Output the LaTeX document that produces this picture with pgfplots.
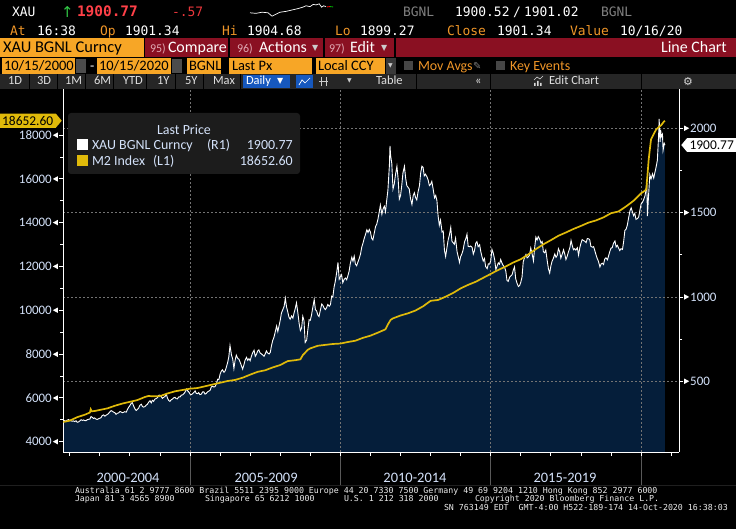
\documentclass[border=0pt]{standalone}
\usepackage{pgfplots}
\pgfplotsset{compat=1.18}
\usepackage{pgfplotstable}
\usepackage{fontspec}
\setmainfont{Carlito}
\setmonofont{DejaVu Sans Mono}
\newfontfamily\dejavu{DejaVu Sans}
\usetikzlibrary{shapes.symbols}

\definecolor{bborange}{RGB}{247,166,38}
\definecolor{bbotxt}{RGB}{240,150,40}
\definecolor{bbred}{RGB}{138,16,34}
\definecolor{bbgray}{RGB}{38,38,38}
\definecolor{bbblue}{RGB}{22,88,190}
\definecolor{navy}{RGB}{5,30,58}
\definecolor{goldl}{RGB}{224,186,10}
\definecolor{ticktxt}{RGB}{212,226,250}
\definecolor{gridgray}{RGB}{115,115,115}
\definecolor{legbg}{RGB}{28,28,28}
\definecolor{pricered}{RGB}{255,64,72}
\definecolor{numpink}{RGB}{225,170,180}

\newcommand{\fs}[1]{\fontsize{#1}{#1}\selectfont}

\pgfplotstableread[row sep=\\]{x y\\
2000.79 270\\ 2000.83 266\\ 2000.88 264\\ 2000.92 270\\ 2000.96 273\\
2001.00 268\\ 2001.04 266\\ 2001.08 263\\ 2001.13 265\\ 2001.17 261\\ 2001.21 266\\ 2001.25 257\\ 2001.29 259\\ 2001.33 264\\ 2001.38 272\\ 2001.42 268\\ 2001.46 271\\ 2001.50 267\\ 2001.54 266\\ 2001.58 272\\ 2001.63 275\\ 2001.67 276\\ 2001.71 291\\ 2001.75 286\\ 2001.79 280\\ 2001.83 283\\ 2001.88 275\\ 2001.92 274\\ 2001.96 278\\
2002.00 281\\ 2002.04 284\\ 2002.08 297\\ 2002.13 301\\ 2002.17 293\\ 2002.21 299\\ 2002.25 303\\ 2002.29 309\\ 2002.33 318\\ 2002.38 326\\ 2002.42 322\\ 2002.46 317\\ 2002.50 314\\ 2002.54 304\\ 2002.58 310\\ 2002.63 313\\ 2002.67 321\\ 2002.71 318\\ 2002.75 314\\ 2002.79 316\\ 2002.83 320\\ 2002.88 317\\ 2002.92 333\\ 2002.96 346\\
2003.00 356\\ 2003.04 368\\ 2003.08 374\\ 2003.13 352\\ 2003.17 336\\ 2003.21 327\\ 2003.25 333\\ 2003.29 340\\ 2003.33 357\\ 2003.38 364\\ 2003.42 350\\ 2003.46 347\\ 2003.50 350\\ 2003.54 358\\ 2003.58 363\\ 2003.63 377\\ 2003.67 385\\ 2003.71 372\\ 2003.75 387\\ 2003.79 381\\ 2003.83 394\\ 2003.88 398\\ 2003.92 404\\ 2003.96 417\\
2004.00 418\\ 2004.04 411\\ 2004.08 399\\ 2004.13 406\\ 2004.17 410\\ 2004.21 425\\ 2004.25 401\\ 2004.29 387\\ 2004.33 381\\ 2004.38 391\\ 2004.42 395\\ 2004.46 402\\ 2004.50 405\\ 2004.54 397\\ 2004.58 396\\ 2004.63 408\\ 2004.67 407\\ 2004.71 418\\ 2004.75 419\\ 2004.79 426\\ 2004.83 434\\ 2004.88 454\\ 2004.92 444\\ 2004.96 437\\
2005.00 424\\ 2005.04 421\\ 2005.08 425\\ 2005.13 434\\ 2005.17 443\\ 2005.21 428\\ 2005.25 427\\ 2005.29 433\\ 2005.33 421\\ 2005.38 424\\ 2005.42 438\\ 2005.46 437\\ 2005.50 424\\ 2005.54 428\\ 2005.58 437\\ 2005.63 442\\ 2005.67 447\\ 2005.71 467\\ 2005.75 471\\ 2005.79 466\\ 2005.83 468\\ 2005.88 486\\ 2005.92 512\\ 2005.96 510\\
2006.00 542\\ 2006.04 560\\ 2006.08 568\\ 2006.13 553\\ 2006.17 562\\ 2006.21 585\\ 2006.25 610\\ 2006.29 645\\ 2006.33 712\\ 2006.38 655\\ 2006.42 632\\ 2006.46 575\\ 2006.50 625\\ 2006.54 655\\ 2006.58 638\\ 2006.63 630\\ 2006.67 612\\ 2006.71 592\\ 2006.75 572\\ 2006.79 596\\ 2006.83 625\\ 2006.88 642\\ 2006.92 624\\ 2006.96 634\\
2007.00 622\\ 2007.04 648\\ 2007.08 668\\ 2007.13 684\\ 2007.17 648\\ 2007.21 660\\ 2007.25 680\\ 2007.29 686\\ 2007.33 668\\ 2007.38 662\\ 2007.42 655\\ 2007.46 648\\ 2007.50 662\\ 2007.54 680\\ 2007.58 668\\ 2007.63 662\\ 2007.67 672\\ 2007.71 712\\ 2007.75 742\\ 2007.79 760\\ 2007.83 790\\ 2007.88 828\\ 2007.92 795\\ 2007.96 828\\
2008.00 862\\ 2008.04 905\\ 2008.08 922\\ 2008.13 945\\ 2008.17 992\\ 2008.21 940\\ 2008.25 912\\ 2008.29 880\\ 2008.33 868\\ 2008.38 888\\ 2008.42 874\\ 2008.46 905\\ 2008.50 932\\ 2008.54 965\\ 2008.58 915\\ 2008.63 842\\ 2008.67 800\\ 2008.71 815\\ 2008.75 885\\ 2008.79 860\\ 2008.83 730\\ 2008.88 745\\ 2008.92 808\\ 2008.96 865\\
2009.00 862\\ 2009.04 892\\ 2009.08 935\\ 2009.13 985\\ 2009.17 925\\ 2009.21 918\\ 2009.25 893\\ 2009.29 884\\ 2009.33 918\\ 2009.38 958\\ 2009.42 950\\ 2009.46 934\\ 2009.50 925\\ 2009.54 936\\ 2009.58 955\\ 2009.63 945\\ 2009.67 955\\ 2009.71 1005\\ 2009.75 1000\\ 2009.79 1058\\ 2009.83 1092\\ 2009.88 1148\\ 2009.92 1205\\ 2009.96 1105\\
2010.00 1120\\ 2010.04 1132\\ 2010.08 1084\\ 2010.13 1106\\ 2010.17 1112\\ 2010.21 1102\\ 2010.25 1126\\ 2010.29 1152\\ 2010.33 1198\\ 2010.38 1235\\ 2010.42 1212\\ 2010.46 1242\\ 2010.50 1195\\ 2010.54 1185\\ 2010.58 1205\\ 2010.63 1230\\ 2010.67 1255\\ 2010.71 1295\\ 2010.75 1318\\ 2010.79 1345\\ 2010.83 1368\\ 2010.88 1398\\ 2010.92 1382\\ 2010.96 1400\\
2011.00 1385\\ 2011.04 1348\\ 2011.08 1338\\ 2011.13 1382\\ 2011.17 1418\\ 2011.21 1432\\ 2011.25 1462\\ 2011.29 1502\\ 2011.33 1545\\ 2011.38 1490\\ 2011.42 1522\\ 2011.46 1538\\ 2011.50 1505\\ 2011.54 1572\\ 2011.58 1632\\ 2011.63 1780\\ 2011.65 1895\\ 2011.67 1840\\ 2011.71 1790\\ 2011.75 1640\\ 2011.79 1668\\ 2011.83 1722\\ 2011.88 1775\\ 2011.92 1700\\ 2011.96 1580\\
2012.00 1600\\ 2012.04 1660\\ 2012.08 1735\\ 2012.13 1775\\ 2012.17 1705\\ 2012.21 1660\\ 2012.25 1650\\ 2012.29 1640\\ 2012.33 1585\\ 2012.38 1548\\ 2012.42 1600\\ 2012.46 1618\\ 2012.50 1590\\ 2012.54 1575\\ 2012.58 1620\\ 2012.63 1660\\ 2012.67 1735\\ 2012.71 1775\\ 2012.75 1768\\ 2012.79 1718\\ 2012.83 1728\\ 2012.88 1712\\ 2012.92 1692\\ 2012.96 1660\\
2013.00 1668\\ 2013.04 1685\\ 2013.08 1645\\ 2013.13 1588\\ 2013.17 1602\\ 2013.21 1572\\ 2013.25 1480\\ 2013.29 1425\\ 2013.33 1455\\ 2013.38 1385\\ 2013.42 1390\\ 2013.46 1278\\ 2013.50 1240\\ 2013.54 1288\\ 2013.58 1335\\ 2013.63 1372\\ 2013.67 1412\\ 2013.71 1330\\ 2013.75 1322\\ 2013.79 1312\\ 2013.83 1348\\ 2013.88 1268\\ 2013.92 1238\\ 2013.96 1205\\
2014.00 1240\\ 2014.04 1255\\ 2014.08 1278\\ 2014.13 1328\\ 2014.17 1345\\ 2014.21 1372\\ 2014.25 1300\\ 2014.29 1298\\ 2014.33 1302\\ 2014.38 1294\\ 2014.42 1254\\ 2014.46 1275\\ 2014.50 1318\\ 2014.54 1328\\ 2014.58 1298\\ 2014.63 1310\\ 2014.67 1268\\ 2014.71 1238\\ 2014.75 1213\\ 2014.79 1228\\ 2014.83 1180\\ 2014.88 1168\\ 2014.92 1196\\ 2014.96 1195\\
2015.00 1215\\ 2015.04 1282\\ 2015.08 1262\\ 2015.13 1222\\ 2015.17 1162\\ 2015.21 1182\\ 2015.25 1202\\ 2015.29 1194\\ 2015.33 1222\\ 2015.38 1198\\ 2015.42 1185\\ 2015.46 1176\\ 2015.50 1154\\ 2015.54 1098\\ 2015.58 1092\\ 2015.63 1118\\ 2015.67 1125\\ 2015.71 1132\\ 2015.75 1160\\ 2015.79 1178\\ 2015.83 1108\\ 2015.88 1078\\ 2015.92 1062\\ 2015.96 1068\\
2016.00 1088\\ 2016.04 1118\\ 2016.08 1208\\ 2016.13 1238\\ 2016.17 1252\\ 2016.21 1232\\ 2016.25 1238\\ 2016.29 1248\\ 2016.33 1290\\ 2016.38 1252\\ 2016.42 1214\\ 2016.46 1292\\ 2016.50 1355\\ 2016.54 1338\\ 2016.58 1358\\ 2016.63 1342\\ 2016.67 1320\\ 2016.71 1328\\ 2016.75 1268\\ 2016.79 1262\\ 2016.83 1278\\ 2016.88 1212\\ 2016.92 1165\\ 2016.96 1142\\
2017.00 1185\\ 2017.04 1212\\ 2017.08 1228\\ 2017.13 1255\\ 2017.17 1235\\ 2017.21 1246\\ 2017.25 1286\\ 2017.29 1270\\ 2017.33 1230\\ 2017.38 1256\\ 2017.42 1280\\ 2017.46 1255\\ 2017.50 1222\\ 2017.54 1240\\ 2017.58 1265\\ 2017.63 1292\\ 2017.67 1335\\ 2017.71 1305\\ 2017.75 1280\\ 2017.79 1286\\ 2017.83 1278\\ 2017.88 1292\\ 2017.92 1248\\ 2017.96 1290\\
2018.00 1320\\ 2018.04 1340\\ 2018.08 1335\\ 2018.13 1330\\ 2018.17 1322\\ 2018.21 1346\\ 2018.25 1345\\ 2018.29 1340\\ 2018.33 1300\\ 2018.38 1295\\ 2018.42 1298\\ 2018.46 1275\\ 2018.50 1250\\ 2018.54 1228\\ 2018.58 1212\\ 2018.63 1178\\ 2018.67 1196\\ 2018.71 1200\\ 2018.75 1192\\ 2018.79 1225\\ 2018.83 1232\\ 2018.88 1220\\ 2018.92 1245\\ 2018.96 1270\\
2019.00 1290\\ 2019.04 1292\\ 2019.08 1318\\ 2019.13 1332\\ 2019.17 1296\\ 2019.21 1306\\ 2019.25 1290\\ 2019.29 1275\\ 2019.33 1286\\ 2019.38 1282\\ 2019.42 1330\\ 2019.46 1395\\ 2019.50 1402\\ 2019.54 1425\\ 2019.58 1465\\ 2019.63 1512\\ 2019.67 1528\\ 2019.71 1505\\ 2019.75 1482\\ 2019.79 1495\\ 2019.83 1460\\ 2019.88 1465\\ 2019.92 1475\\ 2019.96 1515\\
2020.00 1552\\ 2020.04 1560\\ 2020.08 1575\\ 2020.13 1600\\ 2020.17 1645\\ 2020.19 1675\\ 2020.21 1480\\ 2020.25 1610\\ 2020.29 1725\\ 2020.33 1700\\ 2020.38 1730\\ 2020.42 1705\\ 2020.46 1740\\ 2020.50 1772\\ 2020.54 1810\\ 2020.58 1950\\ 2020.60 2055\\ 2020.63 1920\\ 2020.65 1990\\ 2020.67 1950\\ 2020.71 1965\\ 2020.73 1870\\ 2020.75 1890\\ 2020.77 1910\\ 2020.79 1900.77\\
}\xau

\pgfplotstableread[row sep=\\]{x y\\
2000.79 4900\\ 2001.00 4960\\ 2001.25 5120\\ 2001.50 5230\\ 2001.67 5330\\ 2001.70 5480\\ 2001.73 5390\\ 2001.83 5400\\ 2002.00 5450\\ 2002.25 5520\\ 2002.50 5640\\ 2002.75 5740\\ 2003.00 5820\\ 2003.25 5900\\ 2003.50 6040\\ 2003.62 6090\\ 2003.75 6070\\ 2004.00 6080\\ 2004.25 6200\\ 2004.50 6300\\ 2004.75 6360\\ 2005.00 6420\\ 2005.25 6450\\ 2005.50 6530\\ 2005.75 6610\\ 2006.00 6690\\ 2006.25 6770\\ 2006.50 6820\\ 2006.75 6920\\ 2007.00 7060\\ 2007.25 7190\\ 2007.50 7260\\ 2007.75 7390\\ 2008.00 7500\\ 2008.25 7680\\ 2008.50 7720\\ 2008.67 7760\\ 2008.75 7950\\ 2008.92 8200\\ 2009.00 8260\\ 2009.25 8380\\ 2009.50 8420\\ 2009.75 8460\\ 2010.00 8480\\ 2010.25 8550\\ 2010.50 8610\\ 2010.75 8740\\ 2011.00 8840\\ 2011.25 8980\\ 2011.50 9130\\ 2011.58 9350\\ 2011.67 9560\\ 2011.75 9630\\ 2012.00 9760\\ 2012.25 9860\\ 2012.50 9990\\ 2012.75 10180\\ 2013.00 10430\\ 2013.25 10470\\ 2013.50 10620\\ 2013.75 10790\\ 2014.00 11000\\ 2014.25 11160\\ 2014.50 11300\\ 2014.75 11480\\ 2015.00 11660\\ 2015.25 11840\\ 2015.50 12000\\ 2015.75 12180\\ 2016.00 12330\\ 2016.25 12550\\ 2016.50 12790\\ 2016.75 13010\\ 2017.00 13200\\ 2017.25 13400\\ 2017.50 13550\\ 2017.75 13710\\ 2018.00 13850\\ 2018.25 14000\\ 2018.50 14100\\ 2018.75 14240\\ 2019.00 14430\\ 2019.25 14510\\ 2019.50 14740\\ 2019.75 15000\\ 2020.00 15340\\ 2020.13 15460\\ 2020.17 15520\\ 2020.21 16150\\ 2020.25 16850\\ 2020.29 17350\\ 2020.33 17800\\ 2020.42 18050\\ 2020.50 18250\\ 2020.58 18350\\ 2020.67 18450\\ 2020.75 18600\\ 2020.79 18652.6\\
}\mtwo

\pgfplotsset{
  bbaxis/.style={at={(63bp,77bp)}, anchor=south west, scale only axis,
    width=616bp, height=363bp, xmin=2000.777, xmax=2021.26,
    clip mode=individual, scaled ticks=false,
    axis line style={white, line width=0.8bp},
    tick style={white, line width=0.8bp}, tick align=outside,
    major tick length=4bp, minor tick length=3bp,
    yticklabel style={font=\fs{13}, text=ticktxt, inner sep=1bp}},
}

\tikzset{
  t/.style={anchor=base west, inner sep=0pt, outer sep=0pt},
  mono/.style={t, font=\ttfamily\fs{13}, text=white},
  foot/.style={t, font=\ttfamily\fs{8.3}, text=white!92!black},
  btn/.style={t, font=\fs{12.5}, text=white!88!black},
}

\begin{document}
\begin{tikzpicture}[x=1bp,y=1bp]
\useasboundingbox (0,0) rectangle (736,529);
\fill[black] (0,0) rectangle (736,529);

% ---------- header row 1
\node[mono] at (12,512) {XAU};
\node[t, font=\dejavu\fs{15}, text={rgb,255:red,50;green,200;blue,70}] at (61,511) {↑};
\node[mono, font=\ttfamily\bfseries\fs{14.5}, text=pricered] at (77,512) {1900.77};
\node[mono, text={rgb,255:red,235;green,55;blue,60}] at (172,512) {-.57};
\begin{axis}[hide axis, at={(250bp,512bp)}, anchor=south west, scale only axis,
  width=80bp, height=14bp, xmin=0, xmax=20, ymin=-55, ymax=-5, clip=false]
\addplot[white, line width=0.7bp] coordinates {(0,-40)(1.5,-42)(3,-38)(4.5,-40)(5.5,-52)(6.5,-45)(7.5,-38)(9,-35)(10.5,-30)(12,-25)(13.2,-20)(14,-15)(15,-18)(15.8,-10)(16.5,-12)(17.3,-8)(17.9,-20)(18.4,-15)(19,-18)};
\addplot[red, line width=0.9bp] coordinates {(19.2,-19)(20,-18)};
\addplot[green!70!black, line width=0.9bp] coordinates {(20,-18)(20.8,-19)};
\end{axis}
\node[mono, text=gray] at (403,512) {BGNL};
\node[mono] at (455,512) {1900.52};
\node[mono] at (513,512) {/};
\node[mono] at (524,512) {1901.02};
\node[mono, text=gray] at (601,512) {BGNL};

% ---------- header row 2
\node[mono, text=bbotxt] at (10,493) {At};
\node[mono] at (37,493) {16:38};
\node[mono, text=bbotxt] at (100,493) {Op};
\node[mono] at (125,493) {1901.34};
\node[mono, text=bbotxt] at (222,493) {Hi};
\node[mono] at (247,493) {1904.68};
\node[mono, text=bbotxt] at (335,493) {Lo};
\node[mono] at (360,493) {1899.27};
\node[mono, text=bbotxt] at (447,493) {Close};
\node[mono] at (497,493) {1901.34};
\node[mono, text=bbotxt] at (570,493) {Value};
\node[mono] at (620,493) {10/16/20};

% ---------- header row 3
\fill[bborange] (0,472) rectangle (144,491);
\node[t, font=\fs{16.5}, text=black] at (3,476) {XAU BGNL Curncy};
\fill[bbred] (145,472) rectangle (736,491);
\fill[black] (228,472) rectangle (230,491);
\fill[black] (323,472) rectangle (325,491);
\fill[black] (394,472) rectangle (396,491);
\node[t, font=\fs{12}, text=numpink] at (150,476.5) {95)};
\node[t, font=\fs{16}, text=white] at (168,476) {Compare};
\node[t, font=\fs{12}, text=numpink] at (237,476.5) {96)};
\node[t, font=\fs{16}, text=white] at (259,476) {Actions};
\node[t, font=\dejavu\fs{8}, text=white!80!black] at (312,478) {▼};
\node[t, font=\fs{12}, text=numpink] at (329,476.5) {97)};
\node[t, font=\fs{16}, text=white] at (350,476) {Edit};
\node[t, font=\dejavu\fs{8}, text=white!80!black] at (381,478) {▼};
\node[anchor=base east, inner sep=0pt, font=\fs{16}, text=white] at (727,476) {Line Chart};

% ---------- header row 4
\fill[bborange] (2,455) rectangle (75,471);
\node[t, font=\fs{14.5}, text=black] at (4,458.5) {10/15/2000};
\fill[gray!60!black] (76,456) rectangle (86,470);
\draw[black!70, line width=0.6bp] (78,458) rectangle (84,466);
\node[t, font=\fs{14}, text=white] at (90,458.5) {-};
\fill[bborange] (97,455) rectangle (171,471);
\node[t, font=\fs{14.5}, text=black] at (99,458.5) {10/15/2020};
\fill[gray!60!black] (172,456) rectangle (182,470);
\draw[black!70, line width=0.6bp] (174,458) rectangle (180,466);
\fill[bborange] (187,455) rectangle (221,471);
\node[t, font=\fs{14.5}, text=black] at (189,458.5) {BGNL};
\fill[bborange] (229,455) rectangle (312,471);
\node[t, font=\fs{14.5}, text=black] at (232,458.5) {Last Px};
\fill[bborange] (316,455) rectangle (385,471);
\node[t, font=\fs{14.5}, text=black] at (318,458.5) {Local CCY};
\fill[gray!45!black] (386,455) rectangle (396,471);
\node[t, font=\dejavu\fs{6}, text=white!80!black] at (388,461) {▼};
\fill[gray!55!black] (404,459) rectangle (413,468);
\node[t, font=\fs{14}, text=bbotxt] at (418,458.5) {Mov Avgs};
\node[t, font=\dejavu\fs{10}, text=gray] at (473,459) {✎};
\fill[gray!55!black] (496,459) rectangle (505,468);
\node[t, font=\fs{14}, text=bbotxt] at (510,458.5) {Key Events};

% ---------- header row 5
\fill[bbgray] (0,440) rectangle (736,455);
\foreach \sx in {29,57,85,113,146,175,203,240,416,490,641}
  \draw[black, line width=1bp] (\sx,440) -- (\sx,455);
\node[btn] at (8,444) {1D};
\node[btn] at (37,444) {3D};
\node[btn] at (65,444) {1M};
\node[btn] at (94,444) {6M};
\node[btn] at (123,444) {YTD};
\node[btn] at (157,444) {1Y};
\node[btn] at (185,444) {5Y};
\node[btn] at (213,444) {Max};
\fill[bbblue] (243,441) rectangle (290,454);
\node[btn, text=white] at (246,444) {Daily};
\node[t, font=\dejavu\fs{8}, text=white] at (277,445) {▼};
\fill[bbblue] (296,441) rectangle (313,454);
\draw[white, line width=0.7bp] (299,444) -- (302,449) -- (305,446) -- (310,451);
\draw[white!80!black, line width=0.8bp] (321,443) -- (321,452) (326,443) -- (326,452) (319,448) -- (328,448);
\node[t, font=\dejavu\fs{6}, text=white!80!black] at (347,446) {▼};
\node[btn] at (376,444) {Table};
\node[btn] at (475,444) {«};
\fill[white!85!black] (534,443) rectangle (535.5,446) (537,443) rectangle (538.5,448) (540,443) rectangle (541.5,446);
\draw[white!85!black, line width=0.6bp] (534,449) -- (537,452) -- (540,450) -- (543,453);
\node[btn] at (549,444) {Edit Chart};
\node[t, font=\dejavu\fs{11}, text=white!85!black] at (683,443.5) {⚙};

% ---------- axis A: XAU fill, grid, right axis, x ticks
\begin{axis}[bbaxis, ymin=80.8, ymax=2233, axis on top,
  axis x line*=bottom, axis y line*=right,
  xtick={2001,2002,...,2021}, xticklabels={},
  extra x ticks={2005,2010,2015,2020}, extra x tick labels={},
  extra x tick style={grid=major},
  ytick={500,1000,1500,2000}, minor y tick num=1, ymajorgrids,
  major grid style={gridgray, dash pattern=on 2bp off 2bp, line width=0.6bp},
  yticklabel={\tikz[baseline=0bp]\fill[white] (0bp,1.5bp)--(0bp,6.9bp)--(5bp,4.2bp)--cycle;\hspace{1bp}\pgfmathprintnumber[assume math mode=true,1000 sep={},fixed,precision=0]{\tick}},
  yticklabel style={anchor=west}]
\addplot[fill=navy, draw=none] table[x=x, y=y] {\xau} \closedcycle;
\foreach \g in {2005,2010,2015,2020}{
  \edef\tmp{\noexpand\draw[gray!70!black, line width=0.8bp] (axis cs:\g,80.8) -- ++(0bp,-33bp);}\tmp
}
\node[anchor=base, inner sep=0pt, font=\fs{14.5}, text=ticktxt, yshift=-30.7bp] at (axis cs:2002.94,80.8) {2000-2004};
\node[anchor=base, inner sep=0pt, font=\fs{14.5}, text=ticktxt, yshift=-30.7bp] at (axis cs:2007.53,80.8) {2005-2009};
\node[anchor=base, inner sep=0pt, font=\fs{14.5}, text=ticktxt, yshift=-30.7bp] at (axis cs:2012.48,80.8) {2010-2014};
\node[anchor=base, inner sep=0pt, font=\fs{14.5}, text=ticktxt, yshift=-30.7bp] at (axis cs:2017.47,80.8) {2015-2019};
\node[signal, signal to=west, signal pointer angle=100, fill=white, text=black,
  font=\fs{13.5}, inner xsep=2.5bp, inner ysep=2.5bp, anchor=west, xshift=2bp]
  at (axis cs:2021.26,1900.77) {1900.77};
\end{axis}

% ---------- axis B: XAU white line
\begin{axis}[bbaxis, ymin=80.8, ymax=2233, hide axis]
\addplot[white, line width=0.9bp] table[x=x, y=y] {\xau};
\end{axis}

% ---------- axis C: M2 gold line, left axis
\begin{axis}[bbaxis, ymin=3530, ymax=20100,
  axis x line=none, axis y line*=left,
  ytick={4000,6000,...,18000}, minor y tick num=1,
  yticklabel={\pgfmathprintnumber[assume math mode=true,1000 sep={},fixed,precision=0]{\tick}\hspace{1bp}\tikz[baseline=0bp]\fill[white] (0bp,4.2bp)--(5bp,6.9bp)--(5bp,1.5bp)--cycle;},
  yticklabel style={anchor=east}]
\addplot[goldl, line width=1.7bp] table[x=x, y=y] {\mtwo};
\node[signal, signal to=east, signal pointer angle=100, fill=goldl, text=black,
  font=\fs{13.5}, inner xsep=2.5bp, inner ysep=2.5bp, anchor=east, xshift=-1bp]
  at (axis cs:2000.777,18652.6) {18652.60};
\end{axis}

% ---------- legend
\fill[legbg, rounded corners=3bp] (68,355) rectangle (300,416);
\node[anchor=base, inner sep=0pt, font=\fs{14}, text=ticktxt] at (184,394) {Last Price};
\fill[white] (77,379) rectangle (88,390);
\node[t, font=\fs{14}, text=ticktxt] at (92,379) {XAU BGNL Curncy};
\node[t, font=\fs{14}, text=ticktxt] at (207,379) {(R1)};
\node[anchor=base east, inner sep=0pt, font=\fs{14}, text=ticktxt] at (293,379) {1900.77};
\fill[goldl] (77,363) rectangle (88,374);
\node[t, font=\fs{14}, text=ticktxt] at (92,363) {M2 Index};
\node[t, font=\fs{14}, text=ticktxt] at (153,363) {(L1)};
\node[anchor=base east, inner sep=0pt, font=\fs{14}, text=ticktxt] at (293,363) {18652.60};

% ---------- footer
\draw[white!12!black, line width=0.6bp] (0,44) -- (736,44);
\node[foot] at (75,35.7) {Australia 61 2 9777 8600 Brazil 5511 2395 9000 Europe 44 20 7330 7500 Germany 49 69 9204 1210 Hong Kong 852 2977 6000};
\node[foot] at (75,27) {Japan 81 3 4565 8900};
\node[foot] at (205,27) {Singapore 65 6212 1000};
\node[foot] at (344,27) {U.S. 1 212 318 2000};
\node[foot] at (475,27) {Copyright 2020 Bloomberg Finance L.P.};
\node[foot] at (444,18) {SN 763149 EDT\ \ GMT-4:00 H522-189-174 14-Oct-2020 16:38:03};
\end{tikzpicture}
\end{document}
